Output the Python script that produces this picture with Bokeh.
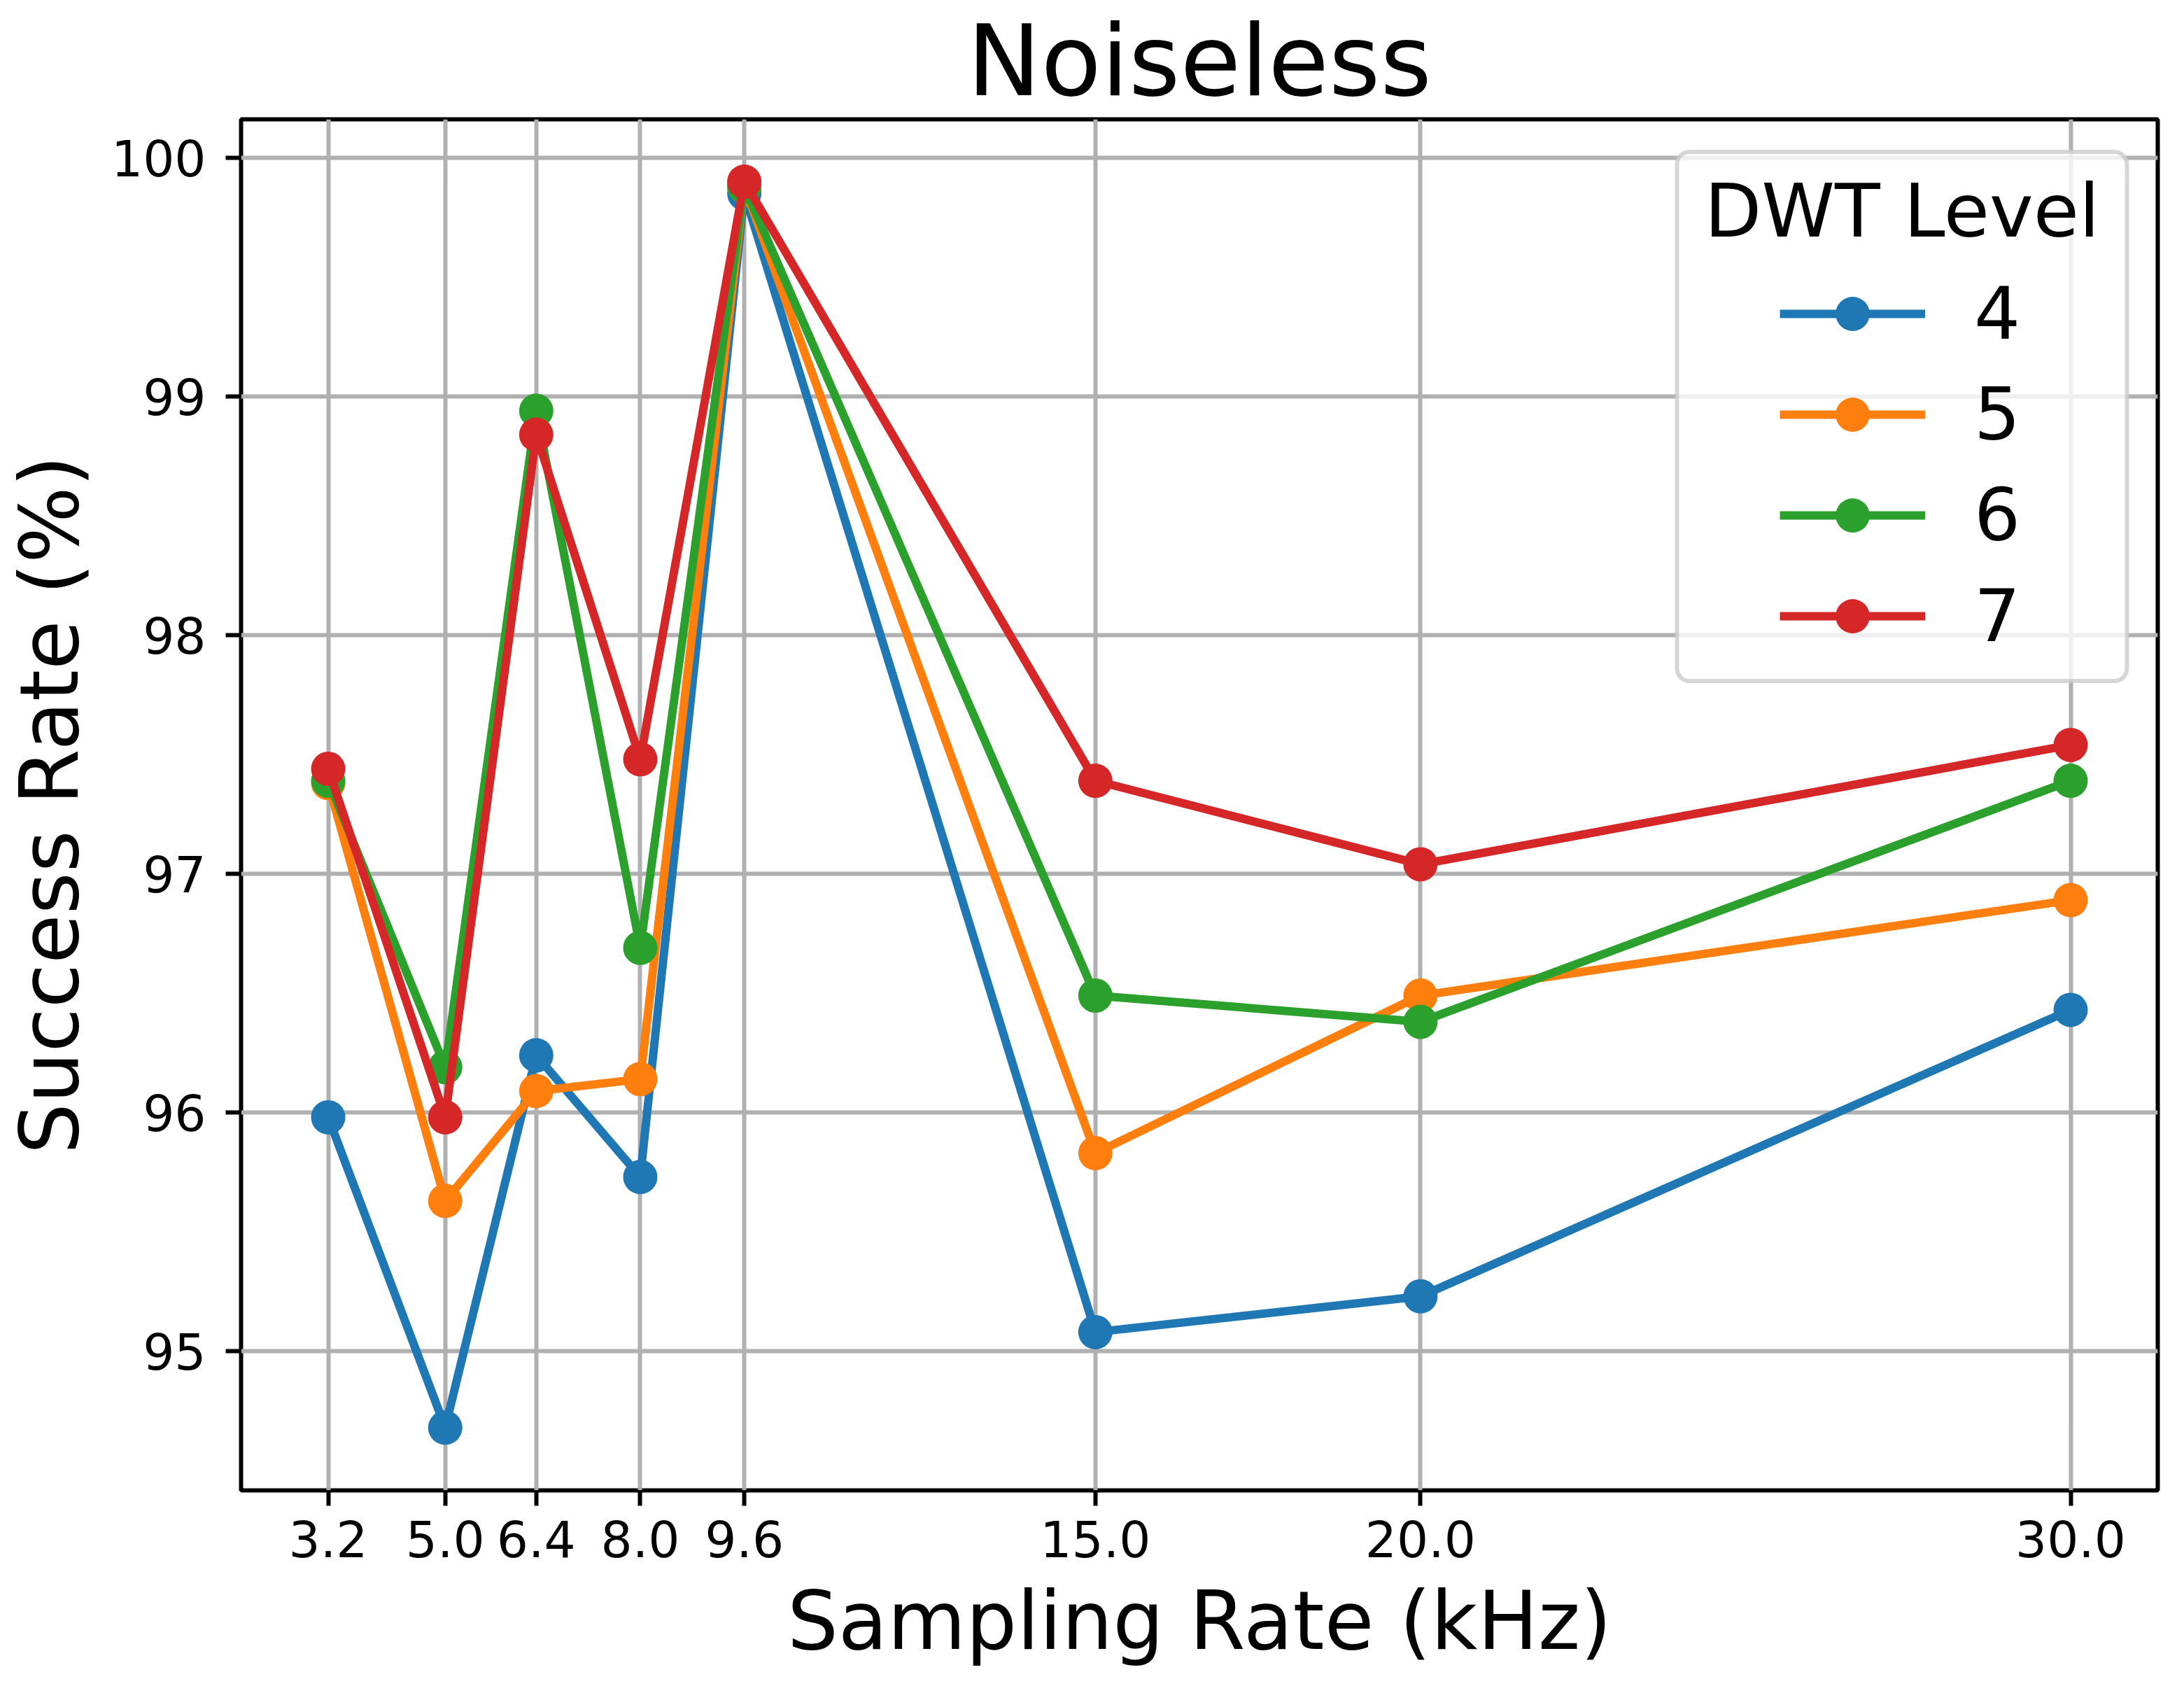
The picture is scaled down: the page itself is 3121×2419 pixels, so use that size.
from bokeh.plotting import figure
from bokeh.models import Range1d, FixedTicker, Legend, LegendItem, BoxAnnotation, Label
from bokeh.embed import file_html
from bokeh.resources import INLINE

# ---- data ----
rates = [3.2, 5.0, 6.4, 8.0, 9.6, 15.0, 20.0, 30.0]
rate_labels = ["3.2", "5.0", "6.4", "8.0", "9.6", "15.0", "20.0", "30.0"]
levels = ["4", "5", "6", "7"]
level4 = [95.98, 94.68, 96.24, 95.73, 99.85, 95.08, 95.23, 96.43]
level5 = [97.38, 95.63, 96.09, 96.14, 99.88, 95.83, 96.49, 96.89]
level6 = [97.39, 96.19, 98.94, 96.69, 99.88, 96.49, 96.38, 97.39]
level7 = [97.44, 95.98, 98.84, 97.48, 99.90, 97.39, 97.04, 97.54]
y_ticks = [95, 96, 97, 98, 99, 100]
colors = ["#1f77b4", "#ff7f0e", "#2ca02c", "#d62728"]

FONT = "DejaVu Sans"

p = figure(width=3105, height=2403, output_backend="svg", toolbar_location=None,
           x_range=Range1d(1.86, 31.34), y_range=Range1d(94.417, 100.161),
           min_border_left=341, min_border_right=22, min_border_top=169, min_border_bottom=274)

p.background_fill_color = "white"
p.border_fill_color = "white"
p.outline_line_color = "black"
p.outline_line_width = 6

# title
p.title.text = "Noiseless"
p.title.align = "center"
p.title.text_font = FONT
p.title.text_font_size = "141px"
p.title.text_font_style = "normal"
p.title.text_color = "black"
p.title.standoff = 4

# axes
xt = FixedTicker(ticks=rates)
yt = FixedTicker(ticks=y_ticks)
p.xaxis.ticker = xt
p.yaxis.ticker = yt
p.xaxis.major_label_overrides = {r: l for r, l in zip(rates, rate_labels)}
p.yaxis.major_label_overrides = {t: str(t) for t in y_ticks}
p.xaxis.axis_label = "Sampling Rate (kHz)"
p.yaxis.axis_label = "Success Rate (%)"
for ax in (p.xaxis, p.yaxis):
    ax.axis_line_color = None
    ax.major_tick_line_color = "black"
    ax.major_tick_line_width = 6
    ax.major_tick_out = 22
    ax.major_tick_in = 0
    ax.minor_tick_line_color = None
    ax.major_label_text_font = FONT
    ax.major_label_text_font_size = "71px"
    ax.major_label_text_color = "black"
    ax.axis_label_text_font = FONT
    ax.axis_label_text_font_size = "115px"
    ax.axis_label_text_font_style = "normal"
    ax.axis_label_text_color = "black"
p.xaxis.major_label_standoff = 20
p.xaxis.axis_label_standoff = 21
p.yaxis.major_label_standoff = 28
p.yaxis.axis_label_standoff = 18
p.yaxis.major_label_orientation = "horizontal"

# grid
p.xgrid.ticker = xt
p.ygrid.ticker = yt
for g in (p.xgrid, p.ygrid):
    g.grid_line_color = "#b0b0b0"
    g.grid_line_width = 6

# series
series = [level4, level5, level6, level7]
items = []
for name, vals, c in zip(levels, series, colors):
    r1 = p.line(rates, vals, line_color=c, line_width=12)
    r2 = p.scatter(rates, vals, marker="circle", size=49, fill_color=c, line_color=c, line_width=0)
    items.append(LegendItem(label=name, renderers=[r1, r2]))

# legend frame + title
box = BoxAnnotation(left=2052, right=2695, top=1912.5, bottom=1156.4,
                    left_units="screen", right_units="screen", top_units="screen", bottom_units="screen",
                    fill_color="white", fill_alpha=0.8, line_color="#cccccc", line_alpha=0.8,
                    line_width=6, border_radius=18)
p.add_layout(box)
title_lbl = Label(x=2373.5, y=1828, x_units="screen", y_units="screen", text="DWT Level",
                  text_align="center", text_baseline="middle", text_font_size="106px",
                  text_color="black")
title_lbl.text_font = FONT
p.add_layout(title_lbl)

legend = Legend(items=items, location=(2199, 1188), orientation="vertical",
                glyph_width=208, glyph_height=122, label_standoff=70, spacing=22,
                padding=0, margin=0, border_line_color=None, background_fill_alpha=0,
                label_text_font=FONT, label_text_font_size="104px", label_text_color="black")
p.add_layout(legend)

open("out.html", "w").write(file_html(p, INLINE))
